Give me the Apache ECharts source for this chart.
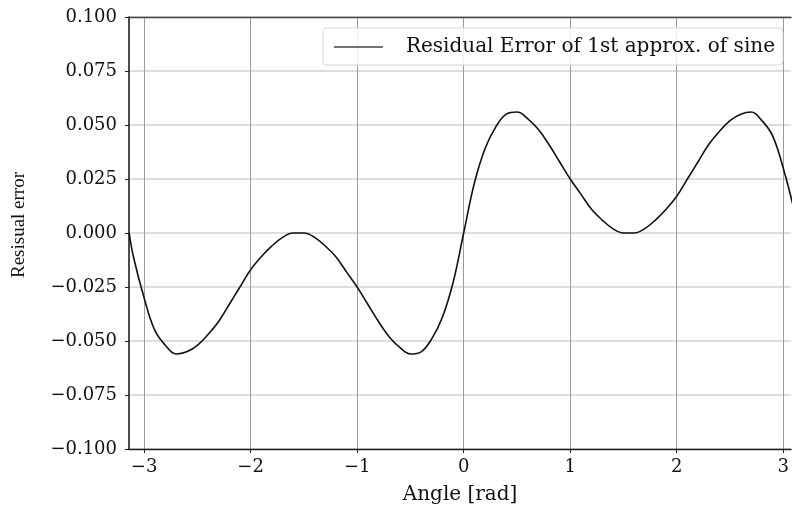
<!DOCTYPE html>
<html>
<head>
<meta charset="utf-8">
<script src="https://cdn.jsdelivr.net/npm/echarts@6/dist/echarts.min.js"></script>
<style>
    html, body { margin: 0; padding: 0; background: #fff; }
    #myChart { width: 792px; height: 510px; }
</style>
</head>
<body>
<div id="myChart"></div>
<script>
    // values (the curve is odd-symmetric about 0)
    var angle = [-3.14, -3.1, -3.0, -2.9, -2.8, -2.7, -2.6, -2.5, -2.4, -2.3, -2.2, -2.1, -2.0, -1.9, -1.8, -1.7, -1.6,
        -1.5, -1.4, -1.3, -1.2, -1.1, -1.0, -0.9, -0.8, -0.7, -0.6, -0.5, -0.4, -0.3, -0.2, -0.1,
        0.0, 0.1, 0.2, 0.3, 0.4, 0.5, 0.6, 0.7, 0.8, 0.9, 1.0, 1.1, 1.2, 1.3, 1.4, 1.5,
        1.6, 1.7, 1.8, 1.9, 2.0, 2.1, 2.2, 2.3, 2.4, 2.5, 2.6, 2.7, 2.8, 2.9, 3.0, 3.1, 3.14];
    var residual = [0.000, -0.011, -0.030, -0.045, -0.052, -0.056, -0.055, -0.052, -0.047, -0.041, -0.033, -0.025, -0.017, -0.011, -0.006, -0.002, 0.000,
        0.000, -0.002, -0.006, -0.011, -0.018, -0.025, -0.033, -0.041, -0.048, -0.053, -0.056, -0.055, -0.049, -0.039, -0.023,
        0.000, 0.023, 0.039, 0.049, 0.055, 0.056, 0.053, 0.048, 0.041, 0.033, 0.025, 0.018, 0.011, 0.006, 0.002, 0.000,
        0.000, 0.002, 0.006, 0.011, 0.017, 0.025, 0.033, 0.041, 0.047, 0.052, 0.055, 0.056, 0.052, 0.045, 0.030, 0.011, 0.000];
    var xTicks = [-3, -2, -1, 0, 1, 2, 3];
    var seriesName = 'Residual Error of 1st approx. of sine';

    var points = angle.map(function (a, i) { return [a, residual[i]]; });

    function minus(s) {
        return String(s).replace('-', '\u2212');
    }

    var myChart = echarts.init(document.getElementById('myChart'));
    myChart.setOption({
        animation: false,
        textStyle: { fontFamily: 'DejaVu Serif', color: '#111' },
        grid: { left: 129, right: 0, top: 17, bottom: 61 },
        legend: {
            top: 28,
            right: 9,
            padding: [9, 8, 8, 11],
            icon: 'rect',
            itemWidth: 49,
            itemHeight: 1.6,
            itemStyle: { color: '#444' },
            borderColor: '#d6d6d6',
            borderWidth: 1,
            borderRadius: 4,
            backgroundColor: 'rgba(255,255,255,0.85)',
            textStyle: {
                fontFamily: 'DejaVu Serif',
                fontSize: 20,
                color: '#111',
                padding: [0, 0, 0, 18]
            },
            data: [seriesName]
        },
        xAxis: [{
            type: 'value',
            min: -Math.PI,
            max: 3.074,
            name: 'Angle [rad]',
            nameLocation: 'middle',
            nameGap: 36,
            nameTextStyle: { fontFamily: 'DejaVu Serif', fontSize: 20, color: '#111' },
            axisLine: { onZero: false, lineStyle: { color: '#222', width: 1.3 } },
            axisTick: { show: true, inside: false, length: 4, customValues: xTicks, lineStyle: { color: '#222' } },
            axisLabel: {
                customValues: xTicks,
                fontFamily: 'DejaVu Serif',
                fontSize: 18,
                color: '#111',
                margin: 9,
                formatter: function (v) { return minus(v); }
            },
            splitLine: { show: true, lineStyle: { color: '#9a9a9a', width: 1 } }
        }, {
            // top spine only
            type: 'value',
            position: 'top',
            min: -Math.PI,
            max: 3.074,
            axisLine: { show: true, onZero: false, lineStyle: { color: '#444', width: 1.3 } },
            axisTick: { show: false },
            axisLabel: { show: false },
            splitLine: { show: false }
        }],
        yAxis: {
            type: 'value',
            min: -0.1,
            max: 0.1,
            interval: 0.025,
            name: 'Resisual error',
            nameLocation: 'middle',
            nameGap: 100,
            nameTextStyle: { fontFamily: 'Liberation Serif', fontSize: 19, color: '#111', padding: [0, 0, 0, 16] },
            axisLine: { show: true, onZero: false, lineStyle: { color: '#111', width: 1.5 } },
            axisTick: { show: true, inside: false, length: 4, lineStyle: { color: '#222' } },
            axisLabel: {
                fontFamily: 'DejaVu Serif',
                fontSize: 18,
                color: '#111',
                margin: 12,
                formatter: function (v) { return minus(v.toFixed(3)); }
            },
            splitLine: { show: true, lineStyle: { color: '#d2d2d2', width: 1.5 } }
        },
        series: [{
            name: seriesName,
            type: 'line',
            data: points,
            smooth: 0.4,
            symbol: 'none',
            lineStyle: { color: '#111', width: 1.6 },
            itemStyle: { color: '#111' }
        }]
    });
</script>
</body>
</html>
